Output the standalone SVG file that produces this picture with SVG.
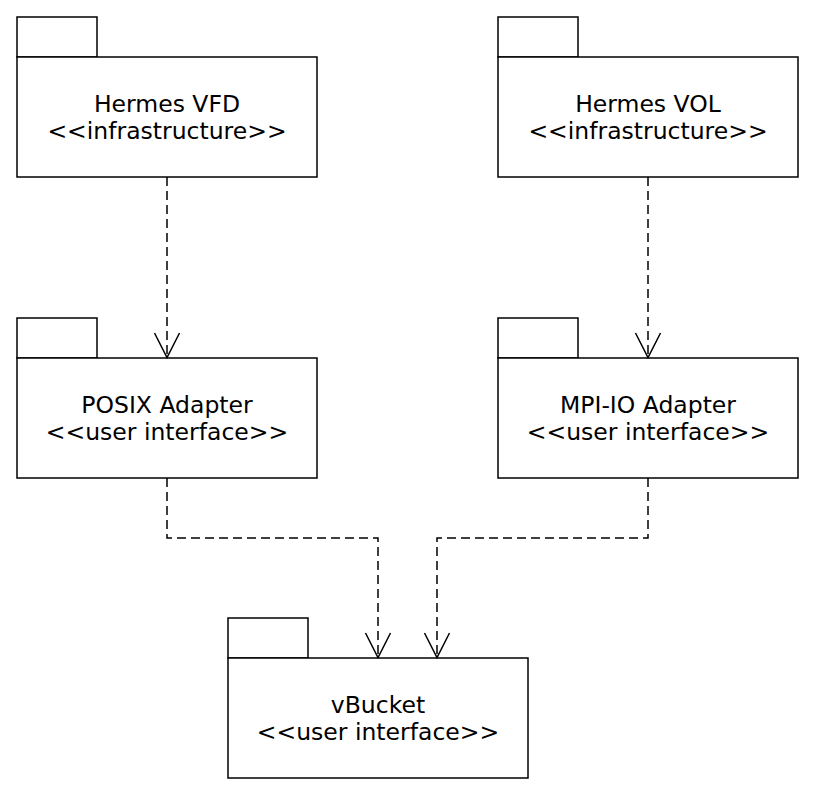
<svg xmlns="http://www.w3.org/2000/svg" width="816" height="794" viewBox="0 0 816 794">
<style>
.pkg rect{fill:#fff;stroke:#000;stroke-width:1.5}
.pkg text{font-family:"DejaVu Sans",sans-serif;font-size:23.5px;text-anchor:middle;fill:#000}
.edge{fill:none;stroke:#000;stroke-width:1.5;stroke-dasharray:9,5}
.head{fill:none;stroke:#000;stroke-width:1.5}
</style>
<rect width="816" height="794" fill="#fff"/>
<g id="hermes-vfd" class="pkg">
<rect x="17" y="17" width="80" height="40"/>
<rect x="17" y="57" width="300" height="120"/>
<text x="167" y="111.5">Hermes VFD</text>
<text x="167" y="138.5">&lt;&lt;infrastructure&gt;&gt;</text>
</g>
<g id="hermes-vol" class="pkg">
<rect x="498" y="17" width="80" height="40"/>
<rect x="498" y="57" width="300" height="120"/>
<text x="648" y="111.5">Hermes VOL</text>
<text x="648" y="138.5">&lt;&lt;infrastructure&gt;&gt;</text>
</g>
<g id="posix-adapter" class="pkg">
<rect x="17" y="318" width="80" height="40"/>
<rect x="17" y="358" width="300" height="120"/>
<text x="167" y="412.5">POSIX Adapter</text>
<text x="167" y="439.5">&lt;&lt;user interface&gt;&gt;</text>
</g>
<g id="mpiio-adapter" class="pkg">
<rect x="498" y="318" width="80" height="40"/>
<rect x="498" y="358" width="300" height="120"/>
<text x="648" y="412.5">MPI-IO Adapter</text>
<text x="648" y="439.5">&lt;&lt;user interface&gt;&gt;</text>
</g>
<g id="vbucket" class="pkg">
<rect x="228" y="618" width="80" height="40"/>
<rect x="228" y="658" width="300" height="120"/>
<text x="378" y="712.5">vBucket</text>
<text x="378" y="739.5">&lt;&lt;user interface&gt;&gt;</text>
</g>
<g id="connectors">
<path class="edge" d="M167,177 V357"/>
<path class="head" d="M154.5,333 L167,357.5 L179.5,333"/>
<path class="edge" d="M648,177 V357"/>
<path class="head" d="M635.5,333 L648,357.5 L660.5,333"/>
<path class="edge" d="M167,478 V538 H378 V657"/>
<path class="head" d="M365.5,633 L378,657.5 L390.5,633"/>
<path class="edge" d="M648,478 V538 H437 V657"/>
<path class="head" d="M424.5,633 L437,657.5 L449.5,633"/>
</g>
</svg>
